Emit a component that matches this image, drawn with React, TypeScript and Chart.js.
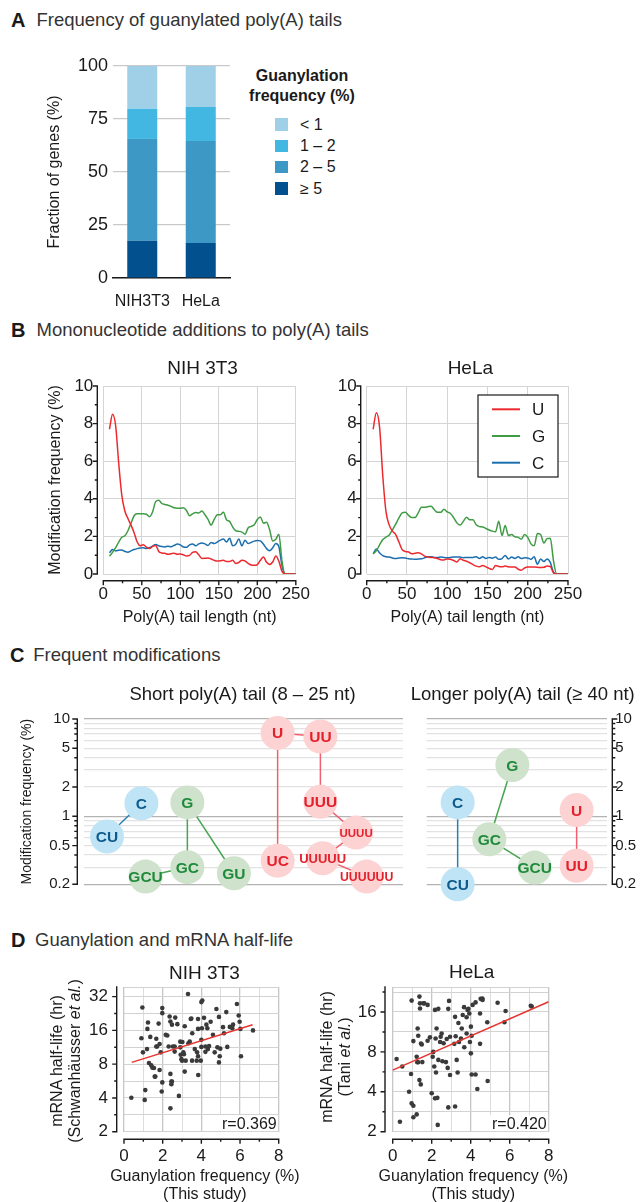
import React, { useEffect, useRef } from 'react';
import { Chart, registerables } from 'chart.js';

Chart.register(...registerables);

const FONT = '"Liberation Sans", Arial, Helvetica, sans-serif';
const INK = '#1a1a1a';
Chart.defaults.font.family = FONT;
Chart.defaults.color = INK;

/* ---------------- Panel A data ---------------- */
const cellLines = ['NIH3T3', 'HeLa'];
const guanylationBins = ['≥ 5', '2 – 5', '1 – 2', '< 1']; // bottom -> top
const binAtLeast5 = [17.6, 16.5];
const bin2to5 = [48.0, 48.1];
const bin1to2 = [14.3, 16.1];
const binBelow1 = [20.1, 19.3];
const binPalette = ['#02508e', '#3e98c6', '#42b7e2', '#9fd0e8'];

/* ---------------- Panel B data ---------------- */
const modNames = ['U', 'G', 'C'];
const modPalette = ['#ec2a2e', '#3f9c45', '#1c6fae'];
const tailLength = [
  8, 12, 16, 20, 24, 28, 32, 36, 40, 44,
  48, 52, 56, 60, 64, 68, 72, 76, 80, 84,
  88, 92, 96, 100, 104, 108, 112, 116, 120, 124,
  128, 132, 136, 140, 144, 148, 152, 156, 160, 164,
  168, 172, 176, 180, 184, 188, 192, 196, 200, 204,
  208, 212, 216, 220, 224, 228, 232, 236, 240, 244,
  248, 250,
];
const nihU = [
  7.7, 8.5, 7.9, 5.9, 4.2, 3.35, 2.95, 2.6, 2.2, 1.7,
  1.5, 1.56, 1.43, 1.35, 1.47, 1.52, 1.2, 1.12, 1.1, 1.05,
  1.08, 1.1, 1.05, 1.07, 1.02, 0.96, 0.99, 1.15, 1.18, 1.02,
  0.83, 0.84, 0.85, 0.8, 0.73, 0.69, 0.7, 0.73, 0.66, 0.66,
  0.73, 0.56, 0.62, 0.73, 0.7, 0.56, 0.48, 0.46, 0.5, 0.73,
  0.9, 0.62, 0.51, 0.64, 0.96, 0.68, 0.15, 0, 0, 0,
  0, 0,
];
const nihG = [
  0.95, 1.15, 1.4, 1.7, 1.95, 2.03, 2.3, 2.7, 3.1, 3.2,
  3.2, 3.2, 3.18, 3.05, 3.3, 3.85, 3.92, 3.75, 3.7, 3.66,
  3.6, 3.52, 3.5, 3.5, 3.52, 3.38, 3.1, 3.2, 3.27, 3.25,
  3.35, 3.15, 2.9, 2.6, 2.9, 3.15, 3.15, 3.28, 2.88, 2.8,
  2.5, 2.3, 2.27, 2.23, 2.12, 2.45, 2.53, 2.62, 2.9, 3.03,
  2.7, 2.75, 2.35, 1.75, 1.85, 2.12, 0.7, 0, 0, 0,
  0, 0,
];
const nihC = [
  1.13, 1.3, 1.23, 1.26, 1.27, 1.2, 1.16, 1.23, 1.3, 1.35,
  1.38, 1.39, 1.35, 1.4, 1.48, 1.57, 1.5, 1.46, 1.44, 1.48,
  1.45, 1.52, 1.6, 1.55, 1.44, 1.42, 1.55, 1.6, 1.5, 1.6,
  1.65, 1.6, 1.52, 1.68, 1.62, 1.7, 1.8, 1.86, 1.7, 1.9,
  1.5, 1.58, 1.86, 1.5, 1.8, 1.62, 1.68, 1.75, 1.78, 1.76,
  1.58, 1.35, 1.24, 1.4, 1.62, 1.45, 0.45, 0, 0, 0,
  0, 0,
];
const helaU = [
  7.7, 8.58, 7.8, 5.2, 3.3, 2.6, 2.28, 2.1, 1.7, 1.3,
  1.2, 1.17, 1.08, 1.1, 1.13, 1.07, 0.95, 0.9, 0.88, 0.87,
  0.82, 0.76, 0.75, 0.8, 0.78, 0.72, 0.64, 0.81, 0.73, 0.68,
  0.6, 0.5, 0.42, 0.38, 0.45, 0.38, 0.3, 0.24, 0.45, 0.4,
  0.38, 0.42, 0.38, 0.37, 0.37, 0.26, 0.2, 0.32, 0.37, 0.37,
  0.37, 0.36, 0.34, 0.36, 0.42, 0.4, 0.05, 0, 0, 0,
  0, 0,
];
const helaG = [
  1.07, 1.24, 1.55, 1.83, 1.96, 2.08, 2.35, 2.65, 2.98, 3.25,
  3.28, 3.12, 3.0, 3.0, 3.25, 3.55, 3.55, 3.58, 3.6, 3.42,
  3.28, 3.28, 3.45, 3.3, 3.22, 3.0, 2.72, 2.6, 2.8, 3.02,
  2.88, 2.88, 2.62, 2.52, 2.5, 2.42, 2.34, 2.28, 2.25, 2.8,
  2.05, 2.58, 2.05, 2.1, 1.98, 1.95, 1.85, 2.1, 1.95, 1.6,
  1.5, 2.15, 2.1, 1.65, 1.88, 1.9, 0.7, 0, 0, 0,
  0, 0,
];
const helaC = [
  1.08, 1.33, 1.12, 0.98, 0.92, 0.9, 0.85, 0.82, 0.85, 0.87,
  0.85, 0.81, 0.8, 0.78, 0.8, 0.81, 0.86, 0.92, 0.92, 0.88,
  0.88, 0.9, 0.88, 0.87, 0.88, 0.9, 0.9, 0.9, 0.87, 0.88,
  0.88, 0.88, 0.92, 0.83, 0.92, 0.83, 0.88, 0.84, 0.9, 0.78,
  0.82, 0.98, 0.8, 0.9, 0.83, 0.92, 0.82, 0.86, 0.85, 0.78,
  0.92, 0.52, 0.8, 0.66, 0.8, 0.62, 0.1, 0, 0, 0,
  0, 0,
];
const lengthTicks = [0, 50, 100, 150, 200, 250];
const lengthMinorTicks = [25, 75, 125, 175, 225];
const freqTicks = [0, 2, 4, 6, 8, 10];
const freqMinorTicks = [1, 3, 5, 7, 9];

/* ---------------- Panel C data ---------------- */
const shortMods = ['C', 'CU', 'G', 'GC', 'GCU', 'GU', 'U', 'UU', 'UUU', 'UUUU', 'UC', 'UUUUU', 'UUUUUU'];
const shortFreq = [1.36, 0.62, 1.39, 0.3, 0.24, 0.26, 7.2, 6.6, 1.41, 0.68, 0.35, 0.37, 0.24];
const shortSlot = [1.8, 0.72, 3.24, 3.24, 1.93, 4.7, 6.07, 7.41, 7.41, 8.53, 6.07, 7.48, 8.86];
const shortLinks = [
  ['C', 'CU'], ['G', 'GC'], ['G', 'GU'], ['GC', 'GCU'],
  ['U', 'UU'], ['U', 'UC'], ['UU', 'UUU'], ['UUU', 'UUUU'], ['UUUU', 'UUUUU'], ['UUUUU', 'UUUUUU'],
];
const longMods = ['C', 'CU', 'G', 'GC', 'GCU', 'U', 'UU'];
const longFreq = [1.39, 0.2, 3.37, 0.58, 0.297, 1.16, 0.31];
const longSlot = [1.72, 1.72, 4.76, 3.48, 6.0, 8.33, 8.33];
const longLinks = [['C', 'CU'], ['G', 'GC'], ['GC', 'GCU'], ['U', 'UU']];
const modGridValues = [0.2, 0.3, 0.4, 0.5, 0.6, 0.7, 0.8, 0.9, 1, 2, 3, 4, 5, 6, 7, 8, 9, 10];
const modTickLabels = [0.2, 0.5, 1, 2, 5, 10];
const familyFill: any = { C: '#bfe4f6', G: '#cfe2cb', U: '#fdd2d3' };
const familyText: any = { C: '#0e5b8b', G: '#1f8a3b', U: '#e3212c' };
const familyLink: any = { C: '#2a80b4', G: '#46a551', U: '#f0606e' };

/* ---------------- Panel D data ---------------- */
const nihGuan = [
  0.38, 0.95, 0.98, 0.9, 1.07, 1.1, 1.21, 1.24, 1.19, 1.36,
  1.29, 1.41, 1.47, 1.55, 1.59, 1.62, 1.67, 1.67, 1.71, 1.79,
  1.84, 1.84, 1.9, 1.98, 1.98, 1.98, 1.95, 2.16, 2.24, 2.36,
  2.4, 2.31, 2.4, 2.45, 2.48, 2.45, 2.4, 2.48, 2.53, 2.65,
  2.62, 2.62, 2.76, 2.84, 2.91, 2.91, 2.93, 2.97, 3.0, 3.1,
  3.02, 3.07, 3.14, 3.19, 3.14, 3.31, 3.33, 3.4, 3.45, 3.48,
  3.52, 3.53, 3.66, 3.76, 3.78, 3.83, 3.83, 3.83, 3.84, 3.97,
  4.0, 4.05, 4.0, 4.0, 4.03, 4.14, 4.21, 4.21, 4.26, 4.31,
  4.34, 4.4, 4.48, 4.6, 4.69, 4.78, 4.83, 4.95, 4.91, 4.91,
  4.98, 5.12, 5.17, 5.29, 5.34, 5.47, 5.6, 5.64, 5.84, 5.93,
  5.98, 6.02, 6.05, 6.67,
];
const nihHalfLife = [
  4.02, 25.6, 10.2, 13.6, 3.84, 4.7, 16.5, 18.8, 10.9, 14.0,
  8.2, 7.8, 7.45, 7.4, 6.2, 6.2, 13.5, 11.5, 11.5, 18.4,
  12.1, 7.1, 10.2, 25.3, 22.8, 5.5, 4.56, 14.6, 14.4, 21.3,
  19.2, 11.5, 6.55, 5.6, 5.6, 5.3, 3.23, 18.0, 11.5, 20.8,
  11.5, 10.35, 18.2, 4.17, 12.7, 11.3, 9.7, 8.87, 8.6, 9.8,
  12.6, 10.2, 17.4, 8.6, 6.87, 33.8, 12.3, 12.7, 20.2, 20.4,
  8.6, 15.1, 10.9, 8.6, 10.2, 20.2, 16.5, 9.4, 6.4, 8.6,
  28.6, 29.6, 13.2, 11.4, 16.7, 20.7, 11.5, 10.3, 18.0, 16.7,
  10.9, 11.6, 19.1, 14.6, 10.2, 24.8, 11.3, 9.4, 8.3, 21.1,
  11.0, 17.1, 15.1, 23.3, 11.4, 17.2, 16.7, 18.0, 27.5, 21.7,
  19.1, 16.5, 9.4, 16,
];
const helaGuan = [
  0.2, 0.37, 0.49, 0.84, 0.97, 0.94, 0.97, 1.06, 1.06, 1.06,
  1.23, 1.23, 1.26, 1.31, 1.28, 1.37, 1.4, 1.4, 1.31, 1.37,
  1.44, 1.45, 1.49, 1.52, 1.57, 1.62, 1.79, 1.79, 1.91, 2.0,
  2.05, 2.08, 2.13, 2.17, 2.17, 2.2, 2.25, 2.22, 2.29, 2.34,
  2.31, 2.34, 2.43, 2.46, 2.51, 2.55, 2.61, 2.73, 2.82, 2.77,
  2.89, 2.85, 2.94, 2.85, 2.94, 3.2, 3.16, 3.23, 3.28, 3.33,
  3.2, 3.37, 3.4, 3.5, 3.54, 3.59, 3.66, 3.67, 3.79, 3.79,
  3.84, 3.88, 3.93, 3.96, 4.01, 4.01, 4.05, 4.05, 4.1, 4.25,
  4.25, 4.34, 4.48, 4.48, 4.51, 4.6, 4.61, 4.85, 4.87, 5.38,
  5.73, 5.79, 7.08, 7.13,
];
const helaHalfLife = [
  7.07, 2.38, 6.2, 4.0, 19.5, 5.45, 3.27, 3.14, 2.57, 9.65,
  2.7, 7.36, 6.68, 10.6, 12.0, 20.9, 18.6, 17.0, 6.68, 4.9,
  4.55, 9.26, 9.1, 6.7, 18.6, 18.6, 18.1, 9.7, 10.3, 3.9,
  7.36, 8.0, 6.2, 3.57, 16.6, 10.1, 12.0, 5.6, 3.6, 16.9,
  2.25, 6.96, 9.5, 10.4, 11.0, 6.8, 9.3, 6.7, 6.06, 10.0,
  19.4, 16.9, 10.4, 3.05, 5.35, 14.7, 9.2, 10.5, 6.96, 5.6,
  3.1, 13.2, 9.5, 10.1, 12.0, 15.2, 17.4, 8.67, 14.6, 11.0,
  16.6, 16.9, 15.6, 9.5, 12.4, 7.8, 5.4, 10.6, 18.1, 18.9,
  5.4, 4.2, 15.6, 9.2, 20.1, 20.2, 19.7, 13.4, 4.82, 18.8,
  13.4, 16.3, 17.8, 17.6,
];
const nihFitX = [0.4, 6.65];
const nihFitY = [8.3, 18.0];
const helaFitX = [0, 8];
const helaFitY = [5.83, 19.1];
const nihHalfLifeTicks = [2, 4, 8, 16, 32];
const helaHalfLifeTicks = [2, 4, 8, 16];
const guanTicks = [0, 2, 4, 6, 8];
const guanMinorTicks = [1, 3, 5, 7];

/* ---------------- plugins ---------------- */
function frameAxesPlugin(specs: any[]) {
  return {
    id: 'frameAxes',
    afterDraw(chart: any) {
      const { ctx, chartArea: a } = chart;
      ctx.save();
      ctx.strokeStyle = INK;
      ctx.lineWidth = 1.4;
      for (const s of specs) {
        const sc = chart.scales[s.scale];
        const majorLen = s.majorLen ?? 4.5;
        const minorLen = s.minorLen ?? 2.5;
        ctx.beginPath();
        if (s.side === 'bottom') {
          const y = a.bottom + s.gap;
          ctx.moveTo(a.left - 0.7, y);
          ctx.lineTo(a.right + 0.7, y);
          const tick = (v: number, len: number) => {
            const x = sc.getPixelForValue(v);
            ctx.moveTo(x, y);
            ctx.lineTo(x, y + len);
          };
          s.major.forEach((v: number) => tick(v, majorLen));
          (s.minor || []).forEach((v: number) => tick(v, minorLen));
        } else {
          const dir = s.side === 'left' ? -1 : 1;
          const x = s.side === 'left' ? a.left - s.gap : a.right + s.gap;
          ctx.moveTo(x, a.top - 0.7);
          ctx.lineTo(x, a.bottom + 0.7);
          const tick = (v: number, len: number) => {
            const y = sc.getPixelForValue(v);
            ctx.moveTo(x, y);
            ctx.lineTo(x + dir * len, y);
          };
          s.major.forEach((v: number) => tick(v, majorLen));
          (s.minor || []).forEach((v: number) => tick(v, minorLen));
        }
        ctx.stroke();
      }
      ctx.restore();
    },
  };
}

function notesPlugin(items: any[]) {
  return {
    id: 'notes',
    afterDraw(chart: any) {
      const { ctx, chartArea: a } = chart;
      items.forEach((n) => {
        ctx.save();
        ctx.font = `${n.bold ? 'bold ' : ''}${n.size}px ${FONT}`;
        const x = (n.ax === 'left' ? a.left : n.ax === 'right' ? a.right : (a.left + a.right) / 2) + n.dx;
        const y = (n.ay === 'top' ? a.top : a.bottom) + n.dy;
        ctx.textAlign = n.align;
        ctx.textBaseline = 'alphabetic';
        if (n.bg) {
          const w = ctx.measureText(n.text).width;
          const x0 = n.align === 'right' ? x - w : n.align === 'center' ? x - w / 2 : x;
          const top = y - n.size * 0.85;
          ctx.fillStyle = n.bg;
          ctx.fillRect(x0 - 3, top, w + 4.5, a.bottom - top - 0.6);
        }
        ctx.fillStyle = n.color || INK;
        ctx.fillText(n.text, x, y);
        ctx.restore();
      });
    },
  };
}

function boxLegendPlugin() {
  return {
    id: 'boxLegend',
    afterDraw(chart: any) {
      const { ctx, chartArea: a } = chart;
      const x0 = a.left + 111.3;
      const y0 = a.top + 9;
      const w = 80;
      const h = 82;
      ctx.save();
      ctx.fillStyle = '#ffffff';
      ctx.fillRect(x0, y0, w, h);
      ctx.strokeStyle = INK;
      ctx.lineWidth = 1.2;
      ctx.strokeRect(x0, y0, w, h);
      chart.data.datasets.forEach((ds: any, i: number) => {
        const y = y0 + 14.3 + i * 26.7;
        ctx.strokeStyle = ds.borderColor;
        ctx.lineWidth = 2;
        ctx.beginPath();
        ctx.moveTo(x0 + 14, y);
        ctx.lineTo(x0 + 42, y);
        ctx.stroke();
        ctx.fillStyle = INK;
        ctx.font = `17px ${FONT}`;
        ctx.textAlign = 'left';
        ctx.textBaseline = 'alphabetic';
        ctx.fillText(ds.label, x0 + 54, y + 6);
      });
      ctx.restore();
    },
  };
}

function bubbleTextPlugin(mods: string[]) {
  return {
    id: 'bubbleText',
    afterDatasetsDraw(chart: any) {
      const { ctx } = chart;
      const idx = chart.data.datasets.findIndex((d: any) => d.type === 'bubble');
      const meta = chart.getDatasetMeta(idx);
      meta.data.forEach((el: any, i: number) => {
        const m = mods[i];
        const size = m.length <= 3 ? 15.5 : m.length === 4 ? 11.5 : m.length === 5 ? 13 : 12.3;
        ctx.save();
        ctx.font = `bold ${size}px ${FONT}`;
        ctx.fillStyle = familyText[m[0]];
        ctx.textAlign = 'center';
        ctx.textBaseline = 'alphabetic';
        ctx.fillText(m, el.x, el.y + size * 0.36);
        ctx.restore();
      });
    },
  };
}

/* ---------------- chart builders ---------------- */
function fractionChart() {
  const values = [binAtLeast5, bin2to5, bin1to2, binBelow1];
  return {
    type: 'bar',
    data: {
      labels: cellLines,
      datasets: guanylationBins.map((b, i) => ({
        label: b,
        data: values[i],
        backgroundColor: binPalette[i],
        borderWidth: 0,
        barPercentage: 1,
        categoryPercentage: 0.513,
      })),
    },
    options: {
      responsive: false,
      animation: false,
      events: [],
      layout: { padding: { left: 0, right: 10, top: 26, bottom: 0 } },
      plugins: { legend: { display: false }, tooltip: { enabled: false } },
      scales: {
        x: {
          stacked: true,
          grid: { display: false },
          border: { display: true, color: INK, width: 1.5 },
          ticks: { font: { size: 16 }, padding: 6, maxRotation: 0, minRotation: 0, autoSkip: false },
          afterFit: (s: any) => { s.height = 32; },
        },
        y: {
          stacked: true,
          min: 0,
          max: 100,
          ticks: { stepSize: 25, font: { size: 18 }, padding: 5 },
          grid: { color: '#c9c9c9', lineWidth: 1.2, drawTicks: false },
          border: { display: false },
          title: { display: true, text: 'Fraction of genes (%)', font: { size: 16 }, padding: { top: 45, bottom: 0 } },
          afterFit: (s: any) => { s.width = 113; },
        },
      },
    },
  };
}

function tailChart(u: number[], g: number[], c: number[], o: any) {
  const series = [u, g, c];
  const grid = { color: '#d5d5d5', lineWidth: 1, drawTicks: false };
  const plugins: any[] = [
    frameAxesPlugin([
      { scale: 'x', side: 'bottom', gap: 6.7, major: lengthTicks, minor: lengthMinorTicks },
      { scale: 'y', side: 'left', gap: 6, major: freqTicks, minor: freqMinorTicks },
    ]),
    notesPlugin([{ text: o.title, ax: 'center', ay: 'top', dx: 3, dy: -12, size: 19, align: 'center' }]),
  ];
  if (o.legend) plugins.push(boxLegendPlugin());
  return {
    type: 'line',
    data: {
      datasets: modNames.map((m, k) => ({
        label: m,
        data: tailLength.map((x, i) => ({ x, y: series[k][i] })),
        borderColor: modPalette[k],
        borderWidth: 1.5,
        pointRadius: 0,
        cubicInterpolationMode: 'monotone',
      })),
    },
    options: {
      responsive: false,
      animation: false,
      events: [],
      layout: { padding: { left: 0, right: o.rightPad, top: 41, bottom: 0 } },
      plugins: { legend: { display: false }, tooltip: { enabled: false } },
      scales: {
        x: {
          type: 'linear',
          min: 0,
          max: 250,
          ticks: { stepSize: 50, font: { size: 17 }, padding: 10, maxRotation: 0 },
          grid,
          border: { display: false },
          title: { display: true, text: 'Poly(A) tail length (nt)', font: { size: 16 }, padding: { top: 0, bottom: 3 } },
          afterFit: (s: any) => { s.height = 56; },
        },
        y: {
          min: 0,
          max: 10,
          ticks: { stepSize: 2, font: { size: 17 }, padding: 10 },
          grid,
          border: { display: false },
          title: { display: o.yTitle, text: 'Modification frequency (%)', font: { size: 16 }, padding: { top: 46, bottom: 0 } },
          afterFit: (s: any) => { s.width = o.yWidth; },
        },
      },
    },
    plugins,
  };
}

function modsChart(mods: string[], freq: number[], slot: number[], links: string[][], o: any) {
  const at = (m: string) => mods.indexOf(m);
  const linkSets = links.map(([a, b]) => ({
    type: 'line',
    data: [
      { x: slot[at(a)], y: freq[at(a)] },
      { x: slot[at(b)], y: freq[at(b)] },
    ],
    borderColor: familyLink[a[0]],
    borderWidth: 1.5,
    pointRadius: 0,
    order: 2,
    clip: false,
  }));
  const bubbleSet = {
    type: 'bubble',
    data: mods.map((m, i) => ({ x: slot[i], y: freq[i], r: 17 })),
    backgroundColor: mods.map((m) => familyFill[m[0]]),
    borderWidth: 0,
    order: 1,
    clip: false,
  };
  const minor = modGridValues.filter((v) => !modTickLabels.includes(v));
  return {
    type: 'bubble',
    data: { datasets: [...linkSets, bubbleSet] },
    options: {
      responsive: false,
      animation: false,
      events: [],
      layout: { padding: { left: o.leftPad, right: o.rightPad, top: 44, bottom: 25.7 } },
      plugins: { legend: { display: false }, tooltip: { enabled: false } },
      scales: {
        x: { type: 'linear', min: 0, max: 10, display: false },
        y: {
          type: 'logarithmic',
          position: o.side,
          min: 0.2,
          max: 10,
          afterBuildTicks: (s: any) => { s.ticks = modGridValues.map((v) => ({ value: v })); },
          ticks: {
            autoSkip: false,
            font: { size: 15 },
            padding: o.tickPad,
            callback: (v: number) => (modTickLabels.includes(v) ? String(v) : ''),
          },
          grid: {
            drawTicks: false,
            lineWidth: 1.2,
            color: (c: any) => {
              const v = c.tick ? c.tick.value : 0;
              return v === 0.2 || v === 1 || v === 10 ? '#b3b3b3' : '#e2e2e2';
            },
          },
          border: { display: false },
          title: { display: o.yTitle, text: 'Modification frequency (%)', font: { size: 14 }, padding: { top: 19, bottom: 0 } },
          afterFit: (s: any) => { s.width = o.yWidth; },
        },
      },
    },
    plugins: [
      frameAxesPlugin([{ scale: 'y', side: o.side, gap: o.axisGap, major: modTickLabels, minor, majorLen: 5, minorLen: 3 }]),
      notesPlugin([{ text: o.title, ax: 'center', ay: 'top', dx: o.titleDx, dy: -19, size: 18.5, align: 'center' }]),
      bubbleTextPlugin(mods),
    ],
  };
}

function halfLifeChart(xs: number[], ys: number[], fitX: number[], fitY: number[], o: any) {
  const gridVals = [
    ...o.labelTicks.flatMap((t: number) => [t, t * Math.SQRT2]).filter((v: number) => v < o.yMax - 0.5),
    o.yMax,
  ];
  const minorY = gridVals.filter((v: number) => !o.labelTicks.includes(v) && v !== o.yMax);
  return {
    type: 'scatter',
    data: {
      datasets: [
        {
          type: 'line',
          data: fitX.map((x, i) => ({ x, y: fitY[i] })),
          borderColor: '#e8342f',
          borderWidth: 1.5,
          pointRadius: 0,
          order: 0,
        },
        {
          type: 'scatter',
          data: xs.map((x, i) => ({ x, y: ys[i] })),
          backgroundColor: '#3a3a3a',
          borderWidth: 0,
          pointRadius: 2.3,
          order: 1,
        },
      ],
    },
    options: {
      responsive: false,
      animation: false,
      events: [],
      layout: { padding: { left: 0, right: o.rightPad, top: 37, bottom: 0 } },
      plugins: { legend: { display: false }, tooltip: { enabled: false } },
      scales: {
        x: {
          type: 'linear',
          min: 0,
          max: 8,
          ticks: {
            stepSize: 1,
            autoSkip: false,
            maxRotation: 0,
            font: { size: 17 },
            padding: 14,
            callback: (v: number) => (guanTicks.includes(v) ? String(v) : ''),
          },
          grid: {
            drawTicks: false,
            color: (c: any) => (c.tick && c.tick.value % 2 === 0 ? '#c6c6c6' : '#dcdcdc'),
            lineWidth: (c: any) => (c.tick && c.tick.value % 2 === 0 ? 1.3 : 1),
          },
          border: { display: false },
          title: { display: false },
          afterFit: (s: any) => { s.height = 70.3; },
        },
        y: {
          type: 'logarithmic',
          min: 2,
          max: o.yMax,
          afterBuildTicks: (s: any) => { s.ticks = gridVals.map((v: number) => ({ value: v })); },
          ticks: {
            autoSkip: false,
            font: { size: 17 },
            padding: 16,
            callback: (v: number) => (o.labelTicks.includes(v) ? String(v) : ''),
          },
          grid: { drawTicks: false, color: '#d2d2d2', lineWidth: 1 },
          border: { display: false },
          afterFit: (s: any) => { s.width = o.yWidth; },
        },
      },
    },
    plugins: [
      frameAxesPlugin([
        { scale: 'x', side: 'bottom', gap: 7.6, major: guanTicks, minor: guanMinorTicks },
        { scale: 'y', side: 'left', gap: o.axisGap, major: o.labelTicks, minor: minorY },
      ]),
      notesPlugin([
        { text: o.title, ax: 'center', ay: 'top', dx: o.titleDx, dy: o.titleDy, size: 19, align: 'center' },
        { text: o.rText, ax: 'right', ay: 'bottom', dx: -2, dy: -3, size: 16, align: 'right', bg: '#ffffff' },
        { text: 'Guanylation frequency (%)', ax: 'center', ay: 'bottom', dx: o.xTitleDx, dy: 49, size: 16, align: 'center' },
        { text: '(This study)', ax: 'center', ay: 'bottom', dx: o.xTitleDx, dy: 67, size: 16, align: 'center' },
      ]),
    ],
  };
}

/* ---------------- components ---------------- */
function ChartCanvas(p: { left: number; top: number; width: number; height: number; make: () => any }) {
  const ref = useRef<HTMLCanvasElement>(null);
  useEffect(() => {
    const chart = new Chart(ref.current as HTMLCanvasElement, p.make());
    return () => chart.destroy();
  }, []);
  return (
    <canvas
      ref={ref}
      width={p.width}
      height={p.height}
      style={{ position: 'absolute', left: p.left, top: p.top, width: p.width, height: p.height }}
    />
  );
}

function Txt(p: { x: number; y: number; size: number; bold?: boolean; color?: string; center?: boolean; children: any }) {
  return (
    <div
      style={{
        position: 'absolute',
        left: p.x,
        top: p.y - 0.8465 * p.size,
        fontSize: p.size,
        lineHeight: `${p.size}px`,
        fontWeight: p.bold ? 700 : 400,
        color: p.color || INK,
        whiteSpace: 'nowrap',
        transform: p.center ? 'translateX(-50%)' : undefined,
      }}
    >
      {p.children}
    </div>
  );
}

function VTitle(p: { cx: number; cy: number; children: any }) {
  return (
    <div
      style={{
        position: 'absolute',
        left: p.cx - 110,
        top: p.cy - 18,
        width: 220,
        height: 36,
        fontSize: 16,
        lineHeight: '18px',
        textAlign: 'center',
        whiteSpace: 'nowrap',
        color: INK,
        transform: 'rotate(-90deg)',
      }}
    >
      {p.children}
    </div>
  );
}

export default function App() {
  const legendBins = guanylationBins.map((b, i) => ({ b, c: binPalette[i] })).reverse();
  return (
    <div
      style={{
        position: 'absolute',
        left: 0,
        top: 0,
        width: 642,
        height: 1202,
        background: '#ffffff',
        fontFamily: FONT,
        color: INK,
        overflow: 'hidden',
      }}
    >
      {/* Panel headings */}
      <Txt x={11} y={26.7} size={20} bold>A</Txt>
      <Txt x={36.5} y={26.7} size={18.5} color="#333">Frequency of guanylated poly(A) tails</Txt>
      <Txt x={11} y={336.7} size={20} bold>B</Txt>
      <Txt x={36.5} y={336.7} size={18.5} color="#333">Mononucleotide additions to poly(A) tails</Txt>
      <Txt x={10} y={661.7} size={20} bold>C</Txt>
      <Txt x={33.3} y={661.7} size={18.5} color="#333">Frequent modifications</Txt>
      <Txt x={11} y={946.7} size={20} bold>D</Txt>
      <Txt x={35} y={946.7} size={18.5} color="#333">Guanylation and mRNA half-life</Txt>

      {/* Panel A */}
      <ChartCanvas left={0} top={40} width={240} height={270} make={fractionChart} />
      <Txt x={302} y={81.7} size={16} bold center>Guanylation</Txt>
      <Txt x={302} y={102} size={16} bold center>frequency (%)</Txt>
      {legendBins.map((it, i) => (
        <React.Fragment key={it.b}>
          <div
            style={{
              position: 'absolute',
              left: 275,
              top: 124.5 + i * 21.3 - 6.25,
              width: 13,
              height: 12.5,
              background: it.c,
            }}
          />
          <Txt x={300} y={124.5 + i * 21.3 + 5.8} size={16}>{it.b}</Txt>
        </React.Fragment>
      ))}

      {/* Panel B */}
      <ChartCanvas
        left={0}
        top={345}
        width={320}
        height={285}
        make={() => tailChart(nihU, nihG, nihC, { title: 'NIH 3T3', rightPad: 16, yWidth: 103.3, yTitle: true, legend: false })}
      />
      <ChartCanvas
        left={320}
        top={345}
        width={322}
        height={285}
        make={() => tailChart(helaU, helaG, helaC, { title: 'HeLa', rightPad: 74, yWidth: 46.7, yTitle: false, legend: true })}
      />

      {/* Panel C */}
      <ChartCanvas
        left={0}
        top={675}
        width={420}
        height={235}
        make={() =>
          modsChart(shortMods, shortFreq, shortSlot, shortLinks, {
            side: 'left', title: 'Short poly(A) tail (8 – 25 nt)', titleDx: -1,
            leftPad: 0, rightPad: 9.3, yWidth: 84, yTitle: true, tickPad: 14, axisGap: 6.7,
          })
        }
      />
      <ChartCanvas
        left={380}
        top={675}
        width={262}
        height={235}
        make={() =>
          modsChart(longMods, longFreq, longSlot, longLinks, {
            side: 'right', title: 'Longer poly(A) tail (≥ 40 nt)', titleDx: 6,
            leftPad: 46.7, rightPad: 0, yWidth: 35.3, yTitle: false, tickPad: 8.5, axisGap: 5.6,
          })
        }
      />

      {/* Panel D */}
      <ChartCanvas
        left={0}
        top={950}
        width={320}
        height={252}
        make={() =>
          halfLifeChart(nihGuan, nihHalfLife, nihFitX, nihFitY, {
            title: 'NIH 3T3', titleDx: 3, titleDy: -8, yMax: 39, labelTicks: nihHalfLifeTicks,
            yWidth: 124, rightPad: 41.3, axisGap: 7.3, rText: 'r=0.369', xTitleDx: 3.5,
          })
        }
      />
      <ChartCanvas
        left={320}
        top={950}
        width={322}
        height={252}
        make={() =>
          halfLifeChart(helaGuan, helaHalfLife, helaFitX, helaFitY, {
            title: 'HeLa', titleDx: 1, titleDy: -9, yMax: 24.7, labelTicks: helaHalfLifeTicks,
            yWidth: 72.7, rightPad: 93.3, axisGap: 7.7, rText: 'r=0.420', xTitleDx: 2.6,
          })
        }
      />
      <VTitle cx={65.5} cy={1061}>
        mRNA half-life (hr)
        <br />
        (Schwanhäusser <i>et al.</i>)
      </VTitle>
      <VTitle cx={336} cy={1057}>
        mRNA half-life (hr)
        <br />
        (Tani <i>et al.</i>)
      </VTitle>
    </div>
  );
}
